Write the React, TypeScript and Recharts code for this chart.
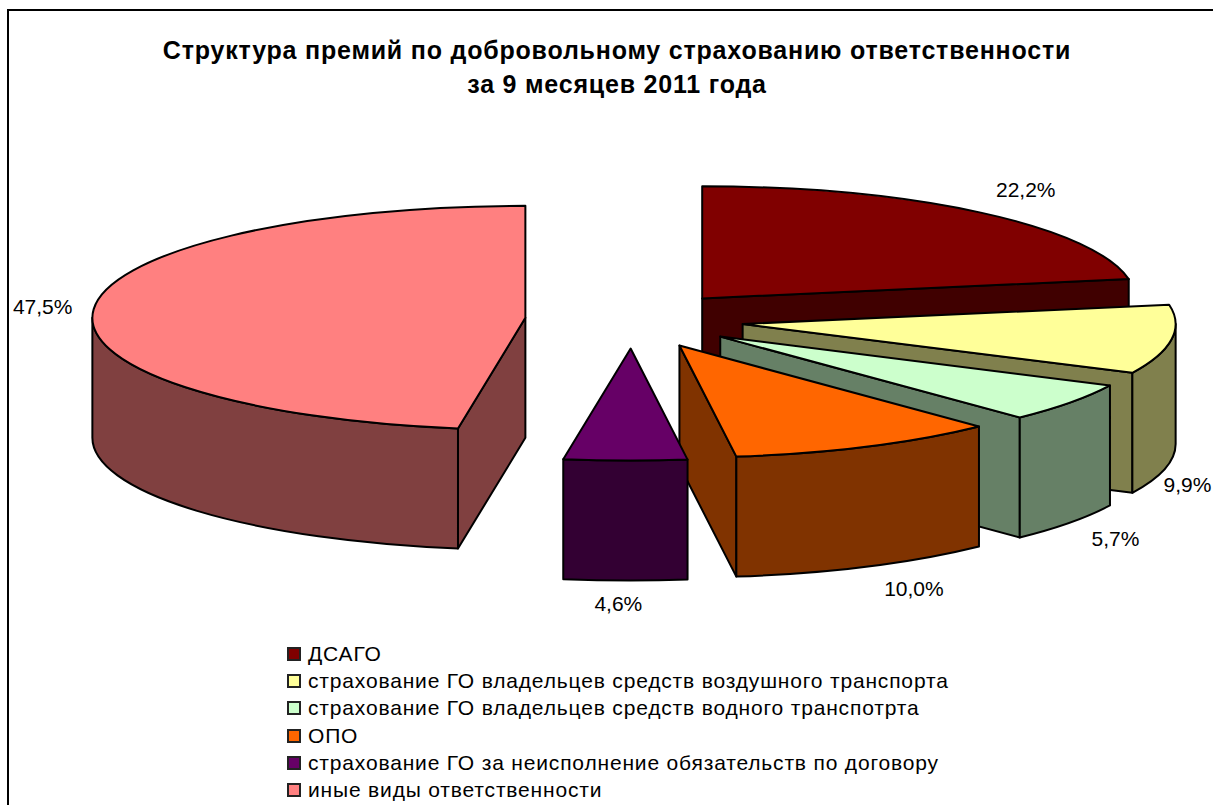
import React from 'react'
import { PieChart, Pie, Legend } from 'recharts'

const names = [
  'ДСАГО',
  'страхование ГО владельцев средств воздушного транспорта',
  'страхование ГО владельцев средств водного транспотрта',
  'ОПО',
  'страхование ГО за неисполнение обязательств по договору',
  'иные виды ответственности',
]
const values = [22.22, 9.92, 5.66, 10.049, 4.58, 47.46]
const topColors = ['#800000', '#FFFF99', '#CCFFCC', '#FF6600', '#660066', '#FF8080']
const sideColors = ['#400000', '#80804D', '#668066', '#803300', '#330033', '#804040']
const titleLines = ['Структура премий по добровольному страхованию ответственности', 'за 9 месяцев 2011 года']

const chartData = names.map((name, i) => ({ name, value: values[i], fill: topColors[i], side: sideColors[i] }))

const FONT = '"Liberation Sans", Arial, sans-serif'
const SQUASH = 0.2587 // 3d tilt of the pie
const DEPTH = 120
const explode = [0.252, 0.258, 0.252, 0.253, 0.255, 0.247]

// offset of each % label from the middle of its rim
const labelNudge = [
  [45, -23],
  [16, 25],
  [45, 16],
  [47, 22],
  [-7, 23],
  [-51, -3],
]

const rad = (deg: number) => (deg * Math.PI) / 180

const explodedCenter = (cx: number, cy: number, r: number, midAngle: number, index: number) => ({
  x: cx + explode[index] * r * Math.cos(rad(midAngle)),
  y: cy - explode[index] * r * SQUASH * Math.sin(rad(midAngle)),
})

function Slice3D(props: any) {
  const { cx, cy, outerRadius: r, startAngle, endAngle, midAngle, fill, payload } = props
  const c = explodedCenter(cx, cy, r, midAngle, names.indexOf(payload?.name ?? props.name))
  const ry = r * SQUASH
  const pt = (angle: number, drop = 0) => ({
    x: c.x + r * Math.cos(rad(angle)),
    y: c.y - ry * Math.sin(rad(angle)) + drop,
  })
  const side = payload?.side ?? props.side
  const stroke = { stroke: '#000', strokeWidth: 2, strokeLinejoin: 'round' as const }

  const cutFace = (angle: number) => {
    const p = pt(angle)
    return `M${c.x},${c.y} L${p.x},${p.y} L${p.x},${p.y + DEPTH} L${c.x},${c.y + DEPTH} Z`
  }

  // clockwise sweep: angles run from startAngle down to endAngle
  const a0 = 90 - startAngle
  const a1 = 90 - endAngle
  const wallFrom = Math.max(a0, 90)
  const wallTo = Math.min(a1, 270)
  let wall = ''
  if (wallTo > wallFrom) {
    const p = pt(90 - wallFrom)
    const q = pt(90 - wallTo)
    wall = `M${p.x},${p.y} A${r},${ry} 0 0 1 ${q.x},${q.y} L${q.x},${q.y + DEPTH} A${r},${ry} 0 0 0 ${p.x},${p.y + DEPTH} Z`
  }

  const s = pt(startAngle)
  const e = pt(endAngle)
  const large = a1 - a0 > 180 ? 1 : 0
  const top = `M${c.x},${c.y} L${s.x},${s.y} A${r},${ry} 0 ${large} 1 ${e.x},${e.y} Z`

  return (
    <g>
      {Math.sin(rad(a0)) < -0.001 && <path d={cutFace(startAngle)} fill={side} {...stroke} />}
      {Math.sin(rad(a1)) > 0.001 && <path d={cutFace(endAngle)} fill={side} {...stroke} />}
      {wall && <path d={wall} fill={side} {...stroke} />}
      <path d={top} fill={fill} {...stroke} />
    </g>
  )
}

function renderLabel(props: any) {
  const { cx, cy, outerRadius: r, midAngle, index, value } = props
  const c = explodedCenter(cx, cy, r, midAngle, index)
  const x = c.x + r * Math.cos(rad(midAngle))
  let y = c.y - r * SQUASH * Math.sin(rad(midAngle))
  const clock = 90 - midAngle
  if (Math.cos(rad(clock)) < 0) y += DEPTH
  const [dx, dy] = labelNudge[index]
  return (
    <text
      x={x + dx}
      y={y + dy}
      textAnchor="middle"
      dominantBaseline="central"
      fontFamily={FONT}
      fontSize={21}
      fill="#000"
    >
      {value.toFixed(1).replace('.', ',')}%
    </text>
  )
}

function LegendList({ payload }: any) {
  return (
    <div style={{ fontFamily: FONT, fontSize: 21, color: '#000' }}>
      {(payload ?? []).map((entry: any, i: number) => (
        <div key={i} style={{ display: 'flex', alignItems: 'center', height: 27.3, whiteSpace: 'nowrap' }}>
          <span
            style={{
              display: 'inline-block',
              boxSizing: 'border-box',
              width: 14,
              height: 14,
              marginRight: 7,
              background: entry.color,
              border: '2px solid #222',
            }}
          />
          <span style={{ letterSpacing: 0.83 }}>{entry.value}</span>
        </div>
      ))}
    </div>
  )
}

export default function App() {
  return (
    <div style={{ position: 'absolute', left: 0, top: 0, width: 1213, height: 805, overflow: 'hidden', background: '#fff' }}>
      <PieChart width={1213} height={805} margin={{ top: 0, right: 0, bottom: 0, left: 0 }} accessibilityLayer={false}>
        <path d="M8,805 L8,10 L1213,10" fill="none" stroke="#000" strokeWidth={2} />
        {titleLines.map((line, i) => (
          <text
            key={i}
            x={617}
            y={50 + i * 34}
            textAnchor="middle"
            dominantBaseline="central"
            fontFamily={FONT}
            fontSize={25}
            fontWeight="bold"
            letterSpacing={0.8}
            fill="#000"
          >
            {line}
          </text>
        ))}
        <Pie
          data={chartData}
          dataKey="value"
          nameKey="name"
          cx={632}
          cy={320}
          outerRadius={433}
          innerRadius={0}
          startAngle={90}
          endAngle={-270}
          isAnimationActive={false}
          shape={Slice3D}
          label={renderLabel}
          labelLine={false}
        />
        <Legend
          layout="vertical"
          align="center"
          verticalAlign="middle"
          itemSorter={null}
          content={<LegendList />}
          wrapperStyle={{ left: 287, top: 640, width: 700, bottom: 'auto', right: 'auto' }}
        />
      </PieChart>
    </div>
  )
}
